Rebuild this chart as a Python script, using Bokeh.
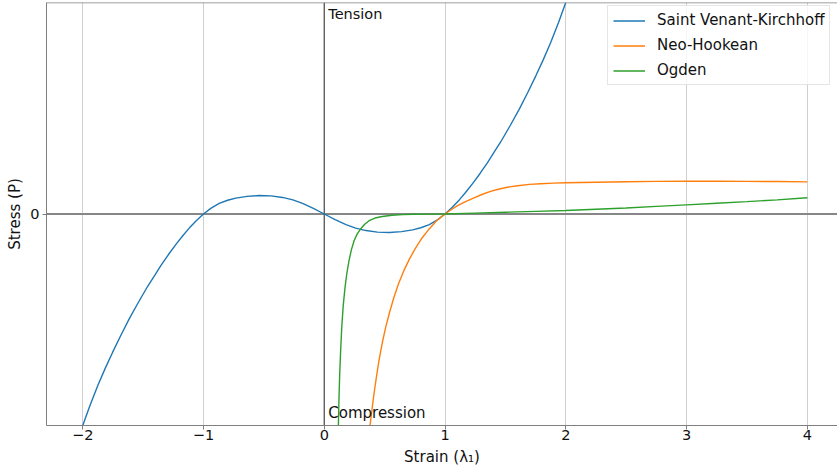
from bokeh.plotting import figure
from bokeh.models import Span, Label, Legend, LegendItem, FixedTicker, Range1d
from bokeh.embed import file_html
from bokeh.resources import INLINE

# Values (stress in arbitrary units)
svk_x = [-2.0, -1.94, -1.876, -1.814, -1.752, -1.684, -1.614, -1.54, -1.462, -1.40, -1.352,
         -1.29, -1.228, -1.17, -1.118, -1.06, -1.0, -0.94, -0.87, -0.80, -0.732, -0.64,
         -0.539, -0.44, -0.346, -0.26, -0.18, -0.09, 0.0,
         0.09, 0.18, 0.26, 0.346, 0.44, 0.539, 0.64, 0.732, 0.80, 0.87, 0.94, 1.0,
         1.06, 1.118, 1.17, 1.228, 1.29, 1.352, 1.40, 1.462, 1.54, 1.614, 1.684, 1.752,
         1.814, 1.876, 1.94, 2.0]
svk_y = [-6.0, -5.43, -4.87, -4.38, -3.92, -3.44, -2.97, -2.51, -2.05, -1.72, -1.46,
         -1.15, -0.86, -0.61, -0.40, -0.19, 0.0, 0.16, 0.30, 0.39, 0.45, 0.50,
         0.525, 0.515, 0.47, 0.40, 0.30, 0.16, 0.0,
         -0.16, -0.30, -0.40, -0.47, -0.515, -0.525, -0.50, -0.45, -0.39, -0.30, -0.16, 0.0,
         0.19, 0.40, 0.61, 0.86, 1.15, 1.46, 1.72, 2.05, 2.51, 2.97, 3.44, 3.92,
         4.38, 4.87, 5.43, 6.0]

nh_x = [0.379, 0.395, 0.412, 0.432, 0.453, 0.48, 0.509, 0.54, 0.577, 0.615, 0.660, 0.705,
        0.757, 0.81, 0.867, 0.93, 1.0, 1.05, 1.1, 1.17, 1.24, 1.31, 1.377, 1.45, 1.515,
        1.6, 1.7, 1.79, 1.9, 2.0, 2.25, 2.5, 2.75, 3.0, 3.25, 3.5, 3.75, 4.0]
nh_y = [-6.0, -5.55, -5.10, -4.62, -4.16, -3.66, -3.21, -2.80, -2.36, -1.98, -1.60, -1.28,
        -0.96, -0.68, -0.43, -0.19, 0.0, 0.12, 0.23, 0.35, 0.46, 0.56, 0.64, 0.71, 0.76,
        0.80, 0.84, 0.86, 0.875, 0.885, 0.90, 0.915, 0.925, 0.93, 0.93, 0.925, 0.92, 0.91]

og_x = [0.117, 0.121, 0.128, 0.136, 0.145, 0.157, 0.172, 0.188, 0.205, 0.225, 0.247, 0.272,
        0.302, 0.335, 0.371, 0.42, 0.481, 0.56, 0.647, 0.74, 0.84, 1.0, 1.25, 1.5, 1.75,
        2.0, 2.25, 2.5, 2.75, 3.0, 3.25, 3.5, 3.75, 4.0]
og_y = [-6.0, -5.35, -4.53, -3.85, -3.21, -2.60, -2.08, -1.66, -1.32, -1.01, -0.76, -0.57,
        -0.42, -0.29, -0.19, -0.115, -0.07, -0.035, -0.018, -0.008, -0.003, 0.0, 0.025, 0.05,
        0.075, 0.10, 0.135, 0.17, 0.215, 0.26, 0.305, 0.35, 0.40, 0.46]

x_ticks = [-2, -1, 0, 1, 2, 3, 4]
x_tick_labels = ["\u22122", "\u22121", "0", "1", "2", "3", "4"]
y_ticks = [0]
series_names = ["Saint Venant-Kirchhoff", "Neo-Hookean", "Ogden"]
colors = ["#1f77b4", "#ff7f0e", "#2ca02c"]

FONT = "DejaVu Sans"
Y_LO, Y_HI = -6.0, 6.0

p = figure(width=837, height=473, output_backend="svg", toolbar_location=None,
           x_range=Range1d(-2.30, 4.25), y_range=Range1d(Y_LO, Y_HI),
           min_border_left=46, min_border_right=0, min_border_top=2, min_border_bottom=48)
p.outline_line_color = None
p.background_fill_color = "white"

# axes
p.xaxis.ticker = FixedTicker(ticks=x_ticks)
p.xaxis.major_label_overrides = {t: l for t, l in zip(x_ticks, x_tick_labels)}
p.yaxis.ticker = FixedTicker(ticks=y_ticks)
for ax in (p.xaxis[0], p.yaxis[0]):
    ax.axis_line_color = "#7f7f7f"
    ax.axis_line_width = 1
    ax.major_tick_line_color = "#7f7f7f"
    ax.major_tick_out = 4
    ax.major_tick_in = 0
    ax.minor_tick_line_color = None
    ax.major_label_text_font = FONT
    ax.major_label_text_font_size = "14.5px"
    ax.major_label_text_color = "#111111"
    ax.axis_label_text_font = FONT
    ax.axis_label_text_font_size = "15px"
    ax.axis_label_text_font_style = "normal"
    ax.axis_label_text_color = "#111111"
p.xaxis.major_label_standoff = 0
p.xaxis.axis_label_standoff = 5
p.yaxis.major_label_standoff = 3
p.yaxis.axis_label_standoff = 3
p.xaxis.axis_label = "Strain (\u03bb\u2081)"
p.yaxis.axis_label = "Stress (P)"

p.xgrid.grid_line_color = "#d0d0d0"
p.xgrid.grid_line_width = 1
p.ygrid.grid_line_color = None

# top frame line
p.add_layout(Span(location=Y_HI, dimension="width", line_color="#7f7f7f", line_width=1.5))

# zero lines
p.add_layout(Span(location=0, dimension="width", line_color="#878787", line_width=2,
                  level="underlay"))
p.add_layout(Span(location=0, dimension="height", line_color="#555555", line_width=1.3,
                  level="underlay"))

r1 = p.line(svk_x, svk_y, line_color=colors[0], line_width=1.4)
r2 = p.line(nh_x, nh_y, line_color=colors[1], line_width=1.4)
r3 = p.line(og_x, og_y, line_color=colors[2], line_width=1.4)

legend = Legend(items=[LegendItem(label=series_names[0], renderers=[r1]),
                       LegendItem(label=series_names[1], renderers=[r2]),
                       LegendItem(label=series_names[2], renderers=[r3])],
                location=(561, 340), margin=0, padding=5, spacing=7,
                glyph_width=32, glyph_height=17, label_height=17, label_standoff=12,
                label_text_font=FONT, label_text_font_size="15px", label_text_color="#111111",
                border_line_color="#cccccc", border_line_width=1,
                background_fill_alpha=0.8)
p.add_layout(legend)

p.add_layout(Label(x=0, y=Y_HI, text="Tension", x_offset=4, y_offset=-3.5,
                   text_baseline="top", text_font=FONT, text_font_size="14.5px",
                   text_color="#111111"))
p.add_layout(Label(x=0, y=Y_LO, text="Compression", x_offset=4, y_offset=13,
                   text_baseline="alphabetic", text_font=FONT, text_font_size="15px",
                   text_color="#111111"))

open("out.html", "w").write(file_html(p, INLINE))
